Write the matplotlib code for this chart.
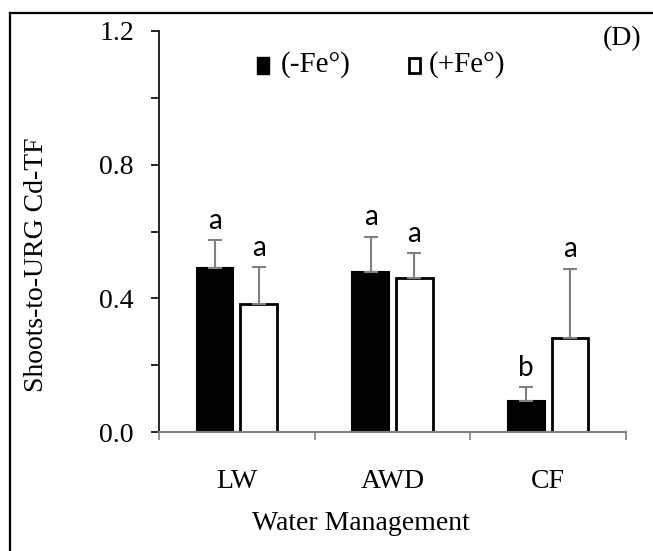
import matplotlib.pyplot as plt
import matplotlib.lines as mlines
import matplotlib.patches as mpatches
import numpy as np

# data
categories = ['LW', 'AWD', 'CF']
minus_fe = [0.49, 0.48, 0.094]
minus_fe_err = [0.085, 0.105, 0.04]
plus_fe = [0.382, 0.46, 0.282]
plus_fe_err = [0.111, 0.075, 0.207]
letters_minus = ['a', 'a', 'b']
letters_plus = ['a', 'a', 'a']
legend_labels = ['(-Fe°)', '(+Fe°)']

serif = 'Liberation Serif'
sans = 'Lato'
W, H = 653, 551

fig = plt.figure(figsize=(W/100, H/100), dpi=100)
ax = fig.add_axes([159/W, 1-432/H, (626-159)/W, (432-31)/H])

x = np.arange(len(categories))
w = 0.235
off = 0.141
errkw = dict(ecolor='#808080', elinewidth=1.5, capsize=4.7, capthick=1.5)

ax.bar(x - off, minus_fe, w, color='black', edgecolor='black', linewidth=1.5,
       yerr=[np.zeros(3), minus_fe_err], error_kw=errkw, zorder=2)
ax.bar(x + off, plus_fe, w, color='white', edgecolor='black', linewidth=2.0,
       yerr=[np.zeros(3), plus_fe_err], error_kw=errkw, zorder=2)

# significance letters
for i in range(len(categories)):
    ax.annotate(letters_minus[i], (x[i] - off, minus_fe[i] + minus_fe_err[i]),
                xytext=(0, 4.5), textcoords='offset points', ha='center', va='bottom',
                fontsize=20, family=sans)
    ax.annotate(letters_plus[i], (x[i] + off, plus_fe[i] + plus_fe_err[i]),
                xytext=(0, 4.5), textcoords='offset points', ha='center', va='bottom',
                fontsize=20, family=sans)

ax.set_xlim(-0.5, 2.5)
ax.set_ylim(0, 1.2)
ax.spines['top'].set_visible(False)
ax.spines['right'].set_visible(False)
ax.spines['left'].set_linewidth(1.2)
ax.spines['bottom'].set_color('#808080')
ax.spines['bottom'].set_linewidth(1.5)

ax.set_yticks([0, 0.4, 0.8, 1.2])
ax.set_yticklabels(['0.0', '0.4', '0.8', '1.2'], fontsize=20, family=serif)
ax.set_yticks([0.2, 0.6, 1.0], minor=True)
ax.tick_params(axis='y', which='both', direction='out', length=6, width=1.2, pad=12)

ax.set_xticks([-0.5, 0.5, 1.5, 2.5])
ax.set_xticklabels([])
ax.set_xticks(x, minor=True)
ax.set_xticklabels(categories, minor=True, fontsize=20, family=serif)
ax.tick_params(axis='x', which='major', direction='out', length=6, width=1.2, color='#808080')
ax.tick_params(axis='x', which='minor', length=0, pad=27)

# axis titles sit off-centre in the original
ax.set_ylabel('Shoots-to-URG Cd-TF', fontsize=20, family=serif)
ax.yaxis.set_label_coords((49-159)/467, (432-265)/401)
ax.set_xlabel('Water Management', fontsize=20, family=serif)
ax.xaxis.set_label_coords((361-159)/467, (432-511)/401)

# legend drawn by hand to match the placement
fig.add_artist(mpatches.Rectangle((257/W, 1-74/H), 12/W, 17/H, transform=fig.transFigure,
                                  facecolor='black', edgecolor='black', linewidth=1))
fig.text(281/W, 1-65/H, legend_labels[0], ha='left', va='center', fontsize=21, family=serif)
fig.add_artist(mpatches.Rectangle((409/W, 1-73/H), 11/W, 15/H, transform=fig.transFigure,
                                  facecolor='white', edgecolor='black', linewidth=2))
fig.text(429/W, 1-65/H, legend_labels[1], ha='left', va='center', fontsize=21, family=serif)

fig.text(641/W, 1-39/H, '(D)', ha='right', va='center', fontsize=20, family=serif)

# outer frame (left and top only visible)
fig.add_artist(mlines.Line2D([9.5/W, 9.5/W], [0, 1-12.5/H], color='black', linewidth=1.6))
fig.add_artist(mlines.Line2D([9.5/W, 1], [1-12.5/H, 1-12.5/H], color='black', linewidth=1.6))

fig.savefig('out.png', dpi=100)
